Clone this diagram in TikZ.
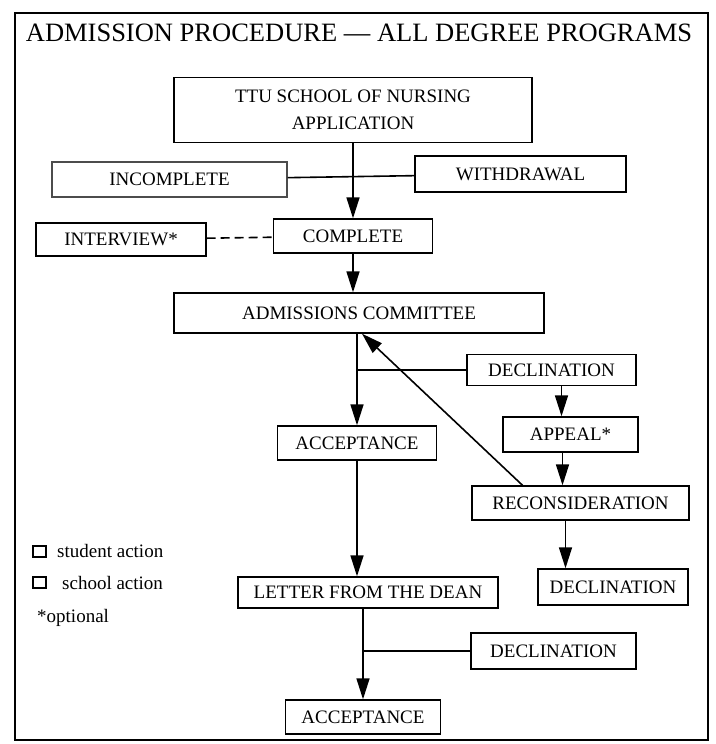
\documentclass[tikz,border=0pt]{standalone}
\usepackage{fontspec}
\setmainfont{Liberation Serif}
\usetikzlibrary{
	positioning,    % relative placement
	arrows.meta,    % Triangle tips
	calc            % shifted anchors
}
\begin{document}
\begin{tikzpicture}[x=1pt, y=-1pt, >={Triangle[length=21pt,width=13pt]},
	box/.style={draw, line width=1.4pt, inner sep=0pt, align=center, font=\fontsize{19}{27}\selectfont},
	link/.style={line width=1.6pt},
	legend/.style={anchor=west, inner sep=0pt, font=\fontsize{19}{22}\selectfont},
	mark box/.style={draw, line width=1.2pt, inner sep=0pt, minimum width=13, minimum height=11}]
	\useasboundingbox (0,0) rectangle (715,744);
	
	% --- Frame and title ---
	\draw[line width=1.4pt] (15,13) rectangle (708,740);
	\node[anchor=base, inner sep=0pt, font=\fontsize{26.5}{30}\selectfont] (title) at (359,41) {ADMISSION PROCEDURE — ALL DEGREE PROGRAMS};
	
	% --- Boxes ---
	\node[box, minimum width=358, minimum height=65] (ttu) at (353,110) {TTU SCHOOL OF NURSING\\APPLICATION};
	\node[box, draw=black!70, minimum width=235, minimum height=35] (incomp) at (169.5,179.5) {INCOMPLETE};
	\node[box, minimum width=211, minimum height=36] (withdr) at (520.5,174) {WITHDRAWAL};
	\node[box, minimum width=170, minimum height=33] (interv) at (121,239.5) {INTERVIEW*};
	\node[box, minimum width=159, minimum height=34] (compl) at (353,236) {COMPLETE};
	\node[box, minimum width=370, minimum height=40] (adm) at (359,313) {ADMISSIONS COMMITTEE};
	\node[box, minimum width=169, minimum height=31] (decl1) at (551.5,370) {DECLINATION};
	\node[box, minimum width=159, minimum height=34] (accept) at (357,443) {ACCEPTANCE};
	\node[box, minimum width=135, minimum height=35] (appeal) at (570.5,434.5) {APPEAL*};
	\node[box, minimum width=217, minimum height=34] (recon) at (580.5,503) {RECONSIDERATION};
	\node[box, minimum width=260, minimum height=31] (letter) at (368,592.5) {LETTER FROM THE DEAN};
	\node[box, minimum width=150, minimum height=36] (decl2) at (613,587) {DECLINATION};
	\node[box, minimum width=165, minimum height=36] (decl3) at (553.5,651) {DECLINATION};
	\node[box, minimum width=155, minimum height=34] (accept2) at (363,717) {ACCEPTANCE};
	
	% --- Legend ---
	\node[mark box] (sqstud) at (39.5,551.5) {};
	\node[legend] (txstud) at (57,551) {student action};
	\node[mark box] (sqschool) at (39.5,582.5) {};
	\node[legend] (txschool) at (62,583) {school action};
	\node[legend] (txopt) at (37,618) {*optional};
	
	% --- Connectors ---
	\draw[link, ->] (ttu) -- (compl);
	\draw[link] (incomp) -- (withdr);
	\draw[link, dash pattern=on 9pt off 5pt] (interv) -- (compl);
	\draw[link, ->] (compl.south) -- (compl.south |- adm.north);
	\draw[link, ->] (accept.north |- adm.south) -- (accept.north);
	\coordinate (j1) at (accept.north |- decl1.west);
	\draw[link] (j1) -- (decl1.west);
	\draw[link, ->] ([xshift=10pt]decl1.south) -- ([xshift=10pt]decl1.south |- appeal.north);
	\draw[link, ->] ([xshift=-8pt]appeal.south) -- ([xshift=-8pt]appeal.south |- recon.north);
	\draw[link, ->] ([xshift=-58pt]recon.north) -- ([xshift=3pt]adm.south);
	\draw[link, ->] ([xshift=-15pt]recon.south) -- ([xshift=-15pt]recon.south |- decl2.north);
	\draw[link, ->] (accept.south) -- (accept.south |- letter.north);
	\draw[link, ->] (accept2.north |- letter.south) -- (accept2.north);
	\coordinate (j3) at (accept2.north |- decl3.west);
	\draw[link] (j3) -- (decl3.west);
\end{tikzpicture}
\end{document}
